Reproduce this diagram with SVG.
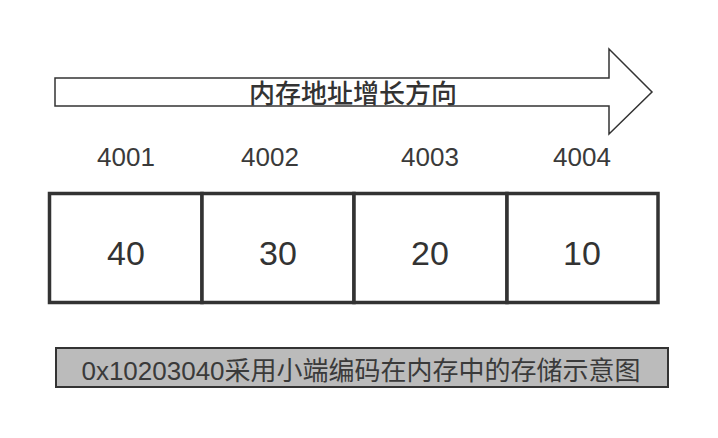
<svg xmlns="http://www.w3.org/2000/svg" width="718" height="438" viewBox="0 0 718 438">
<style>
text{font-family:"Liberation Sans","Noto Sans CJK SC",sans-serif;fill:#333;text-anchor:middle}
.addr{font-size:26px;fill:#3a3a3a}
.val{font-size:34px}
.cell{fill:#fff;stroke:#333;stroke-width:3.5}
</style>
<rect width="718" height="438" fill="#fff"/>
<g id="arrow">
<polygon points="55,78 609,78 609,49 652,92 609,134 609,106 55,106" fill="#fff" stroke="#333" stroke-width="1.5"/>
<text x="353" y="103" style="font-family:'Noto Sans CJK SC',sans-serif;font-size:26px;font-weight:500">内存地址增长方向</text>
</g>
<g id="addresses">
<text class="addr" x="126" y="166">4001</text>
<text class="addr" x="270" y="166">4002</text>
<text class="addr" x="430" y="166">4003</text>
<text class="addr" x="582" y="166">4004</text>
</g>
<g id="cell1"><rect class="cell" x="49.5" y="193.5" width="152.5" height="109"/><text class="val" x="126" y="265">40</text></g>
<g id="cell2"><rect class="cell" x="202" y="193.5" width="152" height="109"/><text class="val" x="278" y="265">30</text></g>
<g id="cell3"><rect class="cell" x="354" y="193.5" width="153" height="109"/><text class="val" x="430" y="265">20</text></g>
<g id="cell4"><rect class="cell" x="507" y="193.5" width="151" height="109"/><text class="val" x="582" y="265">10</text></g>
<g id="caption">
<rect x="56" y="348" width="612" height="39" fill="#bbb" stroke="#333" stroke-width="2"/>
<text x="361" y="380" style="font-size:26px;fill:#3a3a3a">0x10203040采用小端编码在内存中的存储示意图</text>
</g>
<g id="connectors"></g>
</svg>
